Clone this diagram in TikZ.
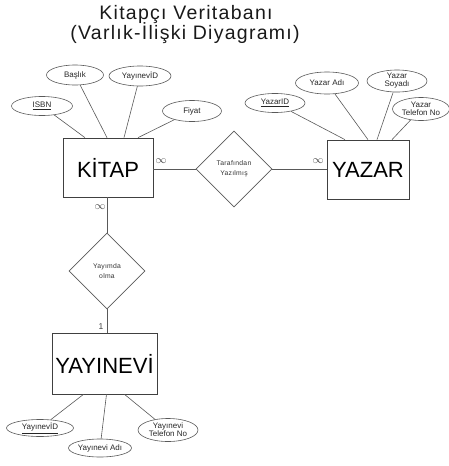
\documentclass[tikz,border=0pt]{standalone}
\usepackage{fontspec}
\setmainfont{Liberation Sans}
\newfontfamily\spaced[LetterSpace=4]{Liberation Sans}
\newfontfamily\titlefont[LetterSpace=6.5]{Liberation Sans}
\usetikzlibrary{shapes.geometric}
\tikzset{
  ln/.style={draw=black!65, line width=0.6pt},
  entity/.style={draw=black!75, line width=0.7pt, rectangle, inner sep=0pt, font=\fontsize{22}{24}\selectfont},
  attr/.style={draw=black!65, line width=0.6pt, ellipse, inner sep=0pt, font=\fontsize{8}{8.5}\selectfont, align=center, text=black!85},
  rel/.style={draw=black!65, line width=0.6pt, diamond, inner sep=0pt, minimum width=76pt, minimum height=76pt, font=\spaced\fontsize{6.8}{10}\selectfont, align=center, text=black!80},
  card/.style={font=\fontsize{11}{11}\selectfont, text=black!75, inner sep=0pt},
  ttl/.style={font=\titlefont\fontsize{19.5}{22}\selectfont, text=black!90, inner sep=0pt, anchor=base}
}
\begin{document}
\begin{tikzpicture}[x=1pt,y=-1pt]
\useasboundingbox (0,0) rectangle (448,466);
% title
\node[ttl] (t1) at (186,19) {Kitapçı Veritabanı};
\node[ttl] (t2) at (185,39) {(Varlık-İlişki Diyagramı)};
% entities
\node[entity, minimum width=90pt, minimum height=59pt] (kitap) at (108,167.5) {KİTAP};
\node[entity, minimum width=82pt, minimum height=59pt] (yazar) at (368,169.5) {YAZAR};
\node[entity, minimum width=105pt, minimum height=61pt] (yayinevi) at (104.5,363.5) {YAYINEVİ};
% relationships
\node[rel] (taraf) at (234,169) {Tarafından\\Yazılmış};
\node[rel] (yayim) at (107,271) {Yayımda\\olma};
% KITAP attributes
\node[attr, minimum width=61pt, minimum height=19pt] (isbn) at (42,106) {\underline{ISBN}};
\node[attr, minimum width=57pt, minimum height=20pt] (baslik) at (75,75) {Başlık};
\node[attr, minimum width=62pt, minimum height=20pt] (kyid) at (140,76) {YayınevİD};
\node[attr, minimum width=59pt, minimum height=21pt] (fiyat) at (192,111) {Fiyat};
% YAZAR attributes
\node[attr, minimum width=60pt, minimum height=19pt] (yazarid) at (275,103) {\underline{YazarID}};
\node[attr, minimum width=63pt, minimum height=22pt] (yazaradi) at (327,83) {Yazar Adı};
\node[attr, minimum width=60pt, minimum height=22pt, font=\fontsize{8}{8}\selectfont] (yazarsoy) at (397,81) {Yazar\\Soyadı};
\node[attr, minimum width=57pt, minimum height=23pt, font=\fontsize{8}{8}\selectfont] (yazartel) at (421,109) {Yazar\\Telefon No};
% YAYINEVI attributes
\node[attr, minimum width=67pt, minimum height=17pt] (yyid) at (40,428) {\underline{YayınevİD}};
\node[attr, minimum width=63pt, minimum height=18pt] (yyadi) at (100,448) {Yayınevi Adı};
\node[attr, minimum width=60pt, minimum height=23pt, font=\fontsize{8}{8}\selectfont] (yytel) at (168,430) {Yayınevi\\Telefon No};
% attribute connectors
\draw[ln] (isbn) -- ([xshift=-23pt]kitap.north);
\draw[ln] (baslik) -- ([xshift=-1pt]kitap.north);
\draw[ln] (kyid) -- ([xshift=16pt]kitap.north);
\draw[ln] (fiyat) -- ([xshift=30pt]kitap.north);
\draw[ln] (yazarid) -- ([xshift=-23pt]yazar.north);
\draw[ln] (yazaradi) -- ([xshift=0pt]yazar.north);
\draw[ln] (yazarsoy) -- ([xshift=9pt]yazar.north);
\draw[ln] (yazartel) -- ([xshift=24pt]yazar.north);
\draw[ln] (yyid) -- ([xshift=-21pt]yayinevi.south);
\draw[ln] (yyadi) -- ([xshift=2pt]yayinevi.south);
\draw[ln] (yytel) -- ([xshift=20pt]yayinevi.south);
% relationship connectors
\draw[ln] (taraf.west) -- (taraf.west -| kitap.east);
\draw[ln] (taraf.east) -- (taraf.east -| yazar.west);
\draw[ln] (yayim.north) -- (yayim.north |- kitap.south);
\draw[ln] (yayim.south) -- (yayim.south |- yayinevi.north);
% cardinalities
\node[card] (c1) at (161,161) {$\infty$};
\node[card] (c2) at (318,161) {$\infty$};
\node[card] (c3) at (100,207) {$\infty$};
\node[card, font=\fontsize{8.5}{9}\selectfont] (c4) at (101,327) {1};
\end{tikzpicture}
\end{document}
